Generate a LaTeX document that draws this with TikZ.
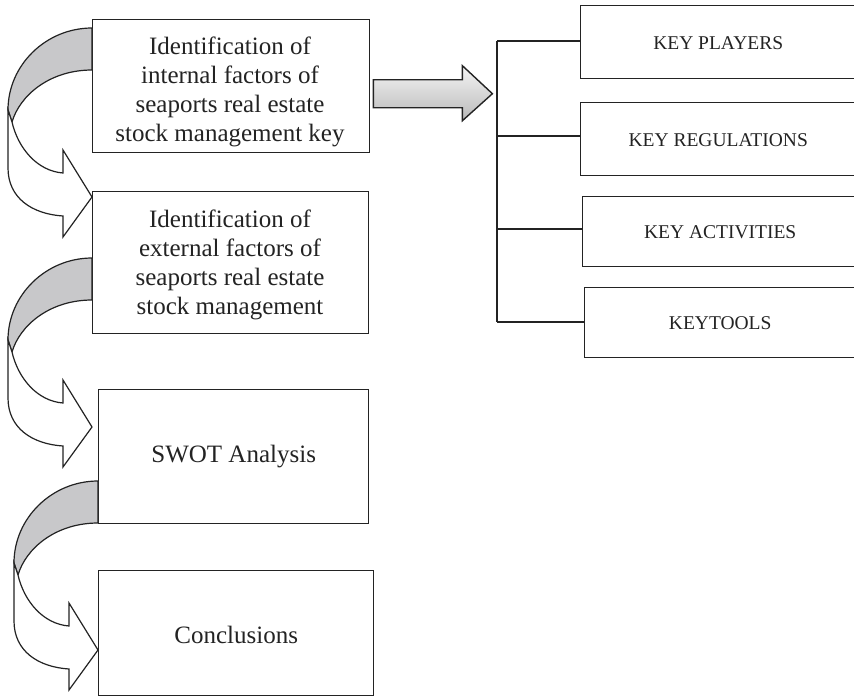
\documentclass[tikz,border=0pt]{standalone}
\usepackage{fontspec}
\setmainfont{Liberation Serif}
\usetikzlibrary{calc}
\definecolor{bandgray}{RGB}{200,200,202}
\definecolor{inkc}{RGB}{35,35,35}
\tikzset{
  box/.style={draw=inkc, line width=1.4pt, inner sep=0pt, anchor=north west},
  lefttxt/.style={text=inkc, align=center, font=\fontsize{25}{28.8}\selectfont, inner sep=0pt},
  righttxt/.style={text=inkc, font=\fontsize{19.5}{23}\selectfont},
  bigtxt/.style={text=inkc, font=\fontsize{25}{28.8}\selectfont},
  treeline/.style={draw=inkc, line width=1.2pt},
  curvarrow/.pic={
    \filldraw[fill=bandgray, draw=inkc, line width=1.2pt, line join=round]
      (0,0) .. controls (-46,0) and (-84,37) .. (-84,82)
      -- (-80,94) .. controls (-72,67) and (-42,42) .. (0,42) -- cycle;
    \filldraw[fill=white, draw=inkc, line width=1.2pt, line join=miter]
      (-80,94) .. controls (-74,120) and (-55,143) .. (-29,145)
      -- (-29,122) -- (0,169) -- (-29,209) -- (-29,188)
      .. controls (-60,186) and (-84,170) .. (-84,140)
      -- (-84,82) -- cycle;
  }
}
\begin{document}
\begin{tikzpicture}[x=1pt,y=-1pt]
\useasboundingbox (0,0) rectangle (854,697);
\fill[white] (0,0) rectangle (854,697);

% left column boxes
\node[box, minimum width=277pt, minimum height=133pt] (b1) at (92,19) {};
\node[box, minimum width=276pt, minimum height=142pt] (b2) at (92,191) {};
\node[box, minimum width=270pt, minimum height=134pt] (b3) at (98,389) {};
\node[box, minimum width=275pt, minimum height=125pt] (b4) at (98,570) {};

\node[lefttxt] (t1) at (230,92) {Identification of\\internal factors of\\seaports real estate\\stock management key};
\node[lefttxt] (t2) at (230,265) {Identification of\\external factors of\\seaports real estate\\stock management};
\node[bigtxt] (t3) at (b3.center) {SWOT Analysis};
\node[bigtxt] (t4) at ($(b4.center)+(0,2)$) {Conclusions};

% right column boxes
\node[box, minimum width=275pt, minimum height=73pt] (r1) at (580,5) {};
\node[box, minimum width=275pt, minimum height=73pt] (r2) at (580,102) {};
\node[box, minimum width=273pt, minimum height=70pt] (r3) at (582,196) {};
\node[box, minimum width=271pt, minimum height=70pt] (r4) at (584,287) {};
\node[righttxt] (rt1) at ($(r1.center)+(0,0.5)$) {KEY PLAYERS};
\node[righttxt] (rt2) at ($(r2.center)+(0,0.5)$) {KEY REGULATIONS};
\node[righttxt] (rt3) at ($(r3.center)+(1,0.5)$) {KEY ACTIVITIES};
\node[righttxt] (rt4) at ($(r4.center)+(0,0.5)$) {KEYTOOLS};

% tree connector
\coordinate (tr1) at (497,41);
\coordinate (tr2) at (497,136);
\coordinate (tr3) at (497,229);
\coordinate (tr4) at (497,322);
\draw[treeline] (tr1) -- (tr4);
\draw[treeline] (tr1) -- (tr1 -| r1.west);
\draw[treeline] (tr2) -- (tr2 -| r2.west);
\draw[treeline] (tr3) -- (tr3 -| r3.west);
\draw[treeline] (tr4) -- (tr4 -| r4.west);

% big block arrow
\coordinate (ba) at ($(b1.east)+(3,7.5)$);
\draw[draw=inkc, line width=1.4pt, line join=miter, top color=gray!8, bottom color=gray!55]
  (ba) ++(0,-14) -- ++(89,0) -- ++(0,-14) -- ++(30,28) -- ++(-30,27)
  -- ++(0,-13) -- ++(-89,0) -- cycle;

% curved arrows
\pic at ($(b1.north west)+(0,9)$) {curvarrow};
\pic at ($(b2.north west)+(0,67)$) {curvarrow};
\pic at ($(b3.north west)+(0,92)$) {curvarrow};
\end{tikzpicture}
\end{document}
